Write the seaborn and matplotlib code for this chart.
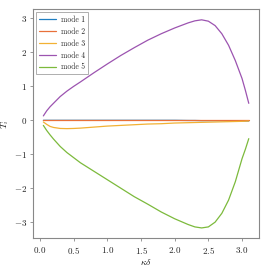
import numpy as np
import pandas as pd
import matplotlib
matplotlib.use("Agg")
import matplotlib.pyplot as plt
import seaborn as sns

x = [0.05, 0.1, 0.15, 0.2, 0.3, 0.4, 0.5, 0.6, 0.8, 1.0, 1.2, 1.4, 1.6, 1.8,
     2.0, 2.2, 2.3, 2.4, 2.5, 2.6, 2.7, 2.8, 2.9, 3.0, 3.05, 3.1]
mode1 = [0.0, 0.0, 0.0, 0.0, 0.0, 0.0, 0.0, 0.0, 0.0, 0.0, 0.0, 0.0, 0.0, 0.0,
         0.0, -0.005, -0.005, -0.01, -0.01, -0.01, -0.01, -0.015, -0.015, -0.02, -0.02, -0.02]
mode2 = [0.0] * 26
mode3 = [-0.05, -0.12, -0.18, -0.21, -0.24, -0.245, -0.24, -0.23, -0.2, -0.17,
         -0.15, -0.13, -0.11, -0.1, -0.08, -0.07, -0.065, -0.06, -0.055, -0.05,
         -0.045, -0.04, -0.035, -0.03, -0.025, -0.02]
mode4 = [0.13, 0.28, 0.4, 0.5, 0.7, 0.86, 1.0, 1.13, 1.4, 1.66, 1.91, 2.14,
         2.36, 2.55, 2.72, 2.87, 2.93, 2.96, 2.92, 2.79, 2.55, 2.21, 1.76, 1.23,
         0.88, 0.5]
mode5 = [-0.15, -0.3, -0.43, -0.55, -0.77, -0.95, -1.1, -1.25, -1.5, -1.75,
         -2.0, -2.25, -2.47, -2.7, -2.9, -3.07, -3.14, -3.17, -3.14, -3.0,
         -2.74, -2.35, -1.81, -1.13, -0.85, -0.54]
labels = ["mode 1", "mode 2", "mode 3", "mode 4", "mode 5"]
colors = ["#1f7ec1", "#e8703a", "#f2b134", "#9c54b0", "#7cba3c"]

series = [mode1, mode2, mode3, mode4, mode5]
df = pd.DataFrame({
    "x": np.tile(x, len(series)),
    "y": np.concatenate(series),
    "mode": np.repeat(labels, len(x)),
})

sns.set_style("ticks")
plt.rcParams["font.family"] = "cmr10"
plt.rcParams["mathtext.fontset"] = "cm"
plt.rcParams["axes.formatter.use_mathtext"] = True

fig = plt.figure(figsize=(2.69, 2.69), dpi=100)
ax = fig.add_axes([0.123, 0.114, 0.84, 0.851])
sns.lineplot(data=df, x="x", y="y", hue="mode", palette=colors, ax=ax,
             linewidth=0.9, estimator=None, sort=False)

for s in ax.spines.values():
    s.set_color("#888888")
    s.set_linewidth(0.8)
ax.tick_params(axis="both", labelsize=6.5, length=2.5, width=0.6, color="#888888", pad=2)
ax.set_xlabel(r"$\kappa\delta$", fontsize=7, labelpad=1)
ax.set_ylabel(r"$T_i$", fontsize=7, labelpad=2)
ax.set_xticks([0.0, 0.5, 1.0, 1.5, 2.0, 2.5, 3.0])
ax.set_yticks([-3, -2, -1, 0, 1, 2, 3])
leg = ax.legend(loc="upper left", fontsize=5.5, frameon=True, fancybox=False,
                handlelength=2.2, handletextpad=0.6, borderpad=0.4,
                labelspacing=0.45, borderaxespad=0.4)
leg.get_frame().set_edgecolor("#999999")
leg.get_frame().set_linewidth(0.7)

fig.savefig("out.png", dpi=100)
